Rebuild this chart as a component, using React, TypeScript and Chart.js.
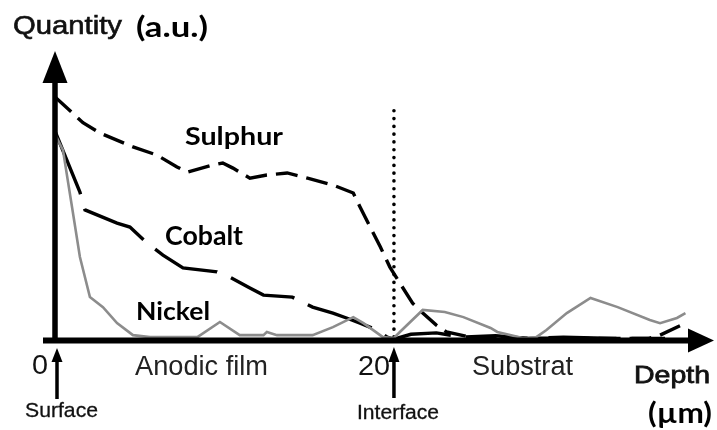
import React, { useEffect, useRef } from "react";
import { Chart, registerables } from "chart.js";

Chart.register(...registerables);

// ---- data (depth in µm, quantity in a.u.) ----
const sulphurDepth = [0, 1.65, 2.65, 4.6, 6.0, 7.2, 7.8, 9.3, 9.9, 10.5, 11.5, 12.5, 13.7, 14.9, 16.4, 17.6, 18.0, 18.6, 19.2, 19.76, 20.35, 21.1, 21.7, 22.5, 23.1, 24.5, 27.4, 32.2, 35.0, 35.7, 37.2];
const sulphurQty = [85, 76, 72.4, 67.5, 64.7, 60.5, 58.7, 61.2, 61.9, 60.1, 56.6, 57.7, 58.4, 56.6, 54.2, 51.4, 46.5, 39.5, 32.5, 25.5, 19.9, 12.9, 9.4, 5.2, 2.8, 1, 0.7, 0.5, 0.5, 1.7, 5.9];

const cobaltDepth = [0, 1.47, 1.77, 3.66, 4.42, 5.43, 6.37, 7.55, 9.56, 10.3, 11.5, 12.3, 14.0, 15.2, 16.4, 17.2, 18.0, 19.0, 19.6, 20, 21, 22.5, 24, 26, 28, 30, 33, 36];
const cobaltQty = [73, 51.7, 45.5, 40.9, 39.5, 33.9, 29.7, 25.2, 23.8, 22.0, 18.2, 15.7, 15.0, 11.5, 9.4, 7.7, 5.9, 3.5, 1.0, 0.3, 2, 2.5, 1, 1.5, 0.5, 1, 0.5, 0.5];

const nickelDepth = [0, 0.47, 1.06, 1.47, 2.06, 2.83, 3.66, 4.6, 5.6, 7.55, 8.4, 9.73, 10.9, 12.3, 12.5, 13.1, 15.2, 16.4, 17.6, 18.2, 19.35, 20, 20.35, 21.7, 23.0, 24.1, 25.7, 26.1, 27.6, 28.4, 29.0, 30.2, 31.6, 33.2, 35.1, 35.7, 36.7, 37.2];
const nickelQty = [72, 66.4, 44.4, 29.0, 15.0, 11.5, 5.9, 1.7, 1.0, 1.0, 1.0, 6.3, 1.7, 1.7, 2.8, 1.7, 1.7, 4.5, 8.0, 5.9, 1.0, 0.7, 2.8, 10.5, 9.8, 8.0, 4.2, 2.8, 0.7, 1.0, 3.5, 9.4, 14.7, 11.5, 7.0, 5.9, 7.7, 9.4];

const seriesNames = ["Sulphur", "Cobalt", "Nickel"];
const xTickValues = [0, 20];
const xTickLabels = ["0", "20"];
const interfaceDepth = 20;
const regionLabels = ["Anodic film", "Substrat"];
const markerLabels = ["Surface", "Interface"];
const yAxisTitle = ["Quantity", "(a.u.)"];
const xAxisTitle = ["Depth", "(µm)"];

const SANS = "'Liberation Sans', Arial, sans-serif";
const BOLD = "Lato, 'Noto Sans', sans-serif";

function fitText(
  ctx: CanvasRenderingContext2D,
  text: string,
  font: string,
  x: number,
  y: number,
  w: number,
  color: string,
  alignRight = false,
  stroke = 0
) {
  ctx.save();
  ctx.font = font;
  ctx.fillStyle = color;
  ctx.strokeStyle = color;
  ctx.textBaseline = "alphabetic";
  ctx.textAlign = "left";
  const m = ctx.measureText(text).width;
  const s = w / m;
  ctx.translate(alignRight ? x - w : x, y);
  ctx.scale(s, 1);
  ctx.fillText(text, 0, 0);
  if (stroke > 0) {
    ctx.lineWidth = stroke;
    ctx.strokeText(text, 0, 0);
  }
  ctx.restore();
}

function upArrow(ctx: CanvasRenderingContext2D, x: number, tipY: number, baseY: number, bottomY: number, half: number, lw: number) {
  ctx.save();
  ctx.fillStyle = "#000";
  ctx.strokeStyle = "#000";
  ctx.lineWidth = lw;
  ctx.beginPath();
  ctx.moveTo(x, bottomY);
  ctx.lineTo(x, baseY);
  ctx.stroke();
  ctx.beginPath();
  ctx.moveTo(x, tipY);
  ctx.lineTo(x - half, baseY);
  ctx.lineTo(x + half, baseY);
  ctx.closePath();
  ctx.fill();
  ctx.restore();
}

const decor = {
  id: "decor",
  beforeDatasetsDraw(chart: any) {
    const ctx: CanvasRenderingContext2D = chart.ctx;
    const xs = chart.scales.x;
    const ys = chart.scales.y;
    const ix = xs.getPixelForValue(interfaceDepth);
    const y0 = ys.getPixelForValue(0);
    ctx.save();
    ctx.strokeStyle = "#000";
    ctx.lineWidth = 3.6;
    ctx.lineCap = "round";
    ctx.setLineDash([0.1, 7.7]);
    ctx.beginPath();
    ctx.moveTo(ix, y0 - 3);
    ctx.lineTo(ix, 108);
    ctx.stroke();
    ctx.restore();
  },
  afterDatasetsDraw(chart: any) {
    const ctx: CanvasRenderingContext2D = chart.ctx;
    const xs = chart.scales.x;
    const ys = chart.scales.y;
    const x0 = xs.getPixelForValue(0);
    const y0 = ys.getPixelForValue(0);
    const top = chart.chartArea.top;

    ctx.save();
    ctx.fillStyle = "#000";
    ctx.strokeStyle = "#000";
    // y axis
    ctx.lineWidth = 5.5;
    ctx.beginPath();
    ctx.moveTo(x0, y0 + 3);
    ctx.lineTo(x0, top + 28);
    ctx.stroke();
    ctx.beginPath();
    ctx.moveTo(x0, top - 3);
    ctx.lineTo(x0 - 12.5, top + 29);
    ctx.lineTo(x0 + 12.5, top + 29);
    ctx.closePath();
    ctx.fill();
    // x axis
    ctx.lineWidth = 6;
    ctx.beginPath();
    ctx.moveTo(x0 - 12, y0 + 0.5);
    ctx.lineTo(690, y0 + 0.5);
    ctx.stroke();
    ctx.beginPath();
    ctx.moveTo(714, y0 + 0.5);
    ctx.lineTo(688, y0 - 11.5);
    ctx.lineTo(688, y0 + 12.5);
    ctx.closePath();
    ctx.fill();
    ctx.restore();

    // surface / interface arrows
    upArrow(ctx, xs.getPixelForValue(0) + 2, y0 + 8, y0 + 22, y0 + 59, 5.5, 3.5);
    upArrow(ctx, xs.getPixelForValue(interfaceDepth), y0 + 7, y0 + 22, y0 + 58, 5.5, 3.5);

    // tick labels
    const tickFont = `28px ${SANS}`;
    fitText(ctx, xTickLabels[0], tickFont, xs.getPixelForValue(xTickValues[0]) - 7, 374, 16, "#111", true);
    fitText(ctx, xTickLabels[1], tickFont, xs.getPixelForValue(xTickValues[1]) - 4, 375, 32, "#111", true);

    // region labels
    fitText(ctx, regionLabels[0], `27px ${SANS}`, 135, 375, 133, "#222");
    fitText(ctx, regionLabels[1], `27px ${SANS}`, 472, 375, 101, "#222");

    // marker labels
    fitText(ctx, markerLabels[0], `21px ${SANS}`, 25, 417, 73, "#111", false, 0.3);
    fitText(ctx, markerLabels[1], `20px ${SANS}`, 357, 419, 82, "#111", false, 0.3);

    // axis titles
    fitText(ctx, yAxisTitle[0], `25px ${SANS}`, 13, 34, 109, "#111", false, 0.6);
    fitText(ctx, yAxisTitle[1], `bold 28px ${BOLD}`, 136, 37, 72, "#000");
    fitText(ctx, xAxisTitle[0], `24px ${SANS}`, 634, 383, 76, "#111", false, 0.8);
    fitText(ctx, xAxisTitle[1], `bold 29px ${BOLD}`, 648, 423, 64, "#000");

    // series labels
    fitText(ctx, seriesNames[0], `bold 25px ${BOLD}`, 185, 145, 98, "#000");
    fitText(ctx, seriesNames[1], `bold 26px ${BOLD}`, 165, 245, 78, "#000");
    fitText(ctx, seriesNames[2], `bold 25px ${BOLD}`, 136, 320, 74, "#000");
  },
};

const pts = (xs: number[], ys: number[]) => xs.map((x, i) => ({ x, y: ys[i] }));

export default function App() {
  const ref = useRef<HTMLCanvasElement>(null);
  useEffect(() => {
    if (!ref.current) return;
    const chart = new Chart(ref.current, {
      type: "line",
      data: {
        datasets: [
          {
            label: seriesNames[2],
            data: pts(nickelDepth, nickelQty),
            borderColor: "#8c8c8c",
            borderWidth: 2.6,
            pointRadius: 0,
            fill: false,
          },
          {
            label: seriesNames[1],
            data: pts(cobaltDepth, cobaltQty),
            borderColor: "#000",
            borderWidth: 3.4,
            borderDash: [68, 15],
            pointRadius: 0,
            fill: false,
          },
          {
            label: seriesNames[0],
            data: pts(sulphurDepth, sulphurQty),
            borderColor: "#000",
            borderWidth: 3.4,
            borderDash: [22, 9],
            pointRadius: 0,
            fill: false,
          },
        ],
      },
      options: {
        responsive: false,
        maintainAspectRatio: false,
        animation: false,
        layout: { padding: { left: 55, right: 18, top: 54, bottom: 90 } },
        scales: {
          x: { type: "linear", min: 0, max: 38, display: false },
          y: { type: "linear", min: 0, max: 100, display: false },
        },
        elements: { line: { tension: 0 }, point: { radius: 0 } },
        plugins: { legend: { display: false }, tooltip: { enabled: false } },
      } as any,
      plugins: [decor],
    });
    return () => chart.destroy();
  }, []);
  return (
    <div style={{ position: "fixed", left: 0, top: 0, width: 717, height: 430, background: "#fff" }}>
      <canvas ref={ref} width={717} height={430} style={{ display: "block" }} />
    </div>
  );
}
